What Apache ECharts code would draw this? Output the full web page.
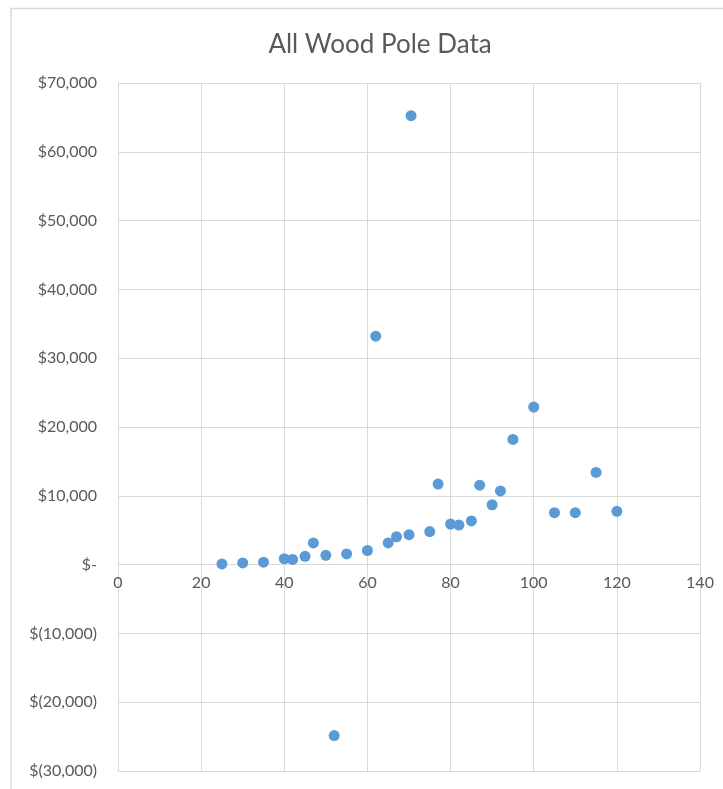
<!DOCTYPE html>
<html>
<head>
<meta charset="utf-8">
<title>All Wood Pole Data</title>
<script src="https://cdn.jsdelivr.net/npm/echarts@6/dist/echarts.min.js"></script>
<style>
  html, body { margin: 0; padding: 0; background: #ffffff; }
  #chart { width: 723px; height: 789px; }
</style>
</head>
<body>
<div id="chart"></div>
<script>
// Pole height (ft) and associated cost ($)
const poleHeights = [25, 30, 35, 40, 42, 45, 47, 50, 55, 60, 65, 67, 70, 75, 77, 80, 82, 85, 87, 90, 92, 95, 100, 105, 110, 115, 120, 62, 70.5, 52];
const poleCosts   = [100, 250, 350, 850, 750, 1200, 3150, 1350, 1550, 2050, 3150, 4050, 4350, 4800, 11700, 5900, 5750, 6350, 11550, 8700, 10700, 18200, 22900, 7550, 7550, 13400, 7750, 33200, 65250, -24850];

const xTicks = { min: 0, max: 140, interval: 20 };
const yTicks = { min: -30000, max: 70000, interval: 10000 };

function formatDollar(v) {
  if (v === 0) return '$-';
  const s = Math.abs(v).toLocaleString('en-US');
  return v < 0 ? '$(' + s + ')' : '$' + s;
}

const points = poleHeights.map((h, i) => [h, poleCosts[i]]);

const chart = echarts.init(document.getElementById('chart'), null, { renderer: 'canvas' });
const textColor = '#595959';
const gridColor = '#d9d9d9';

chart.setOption({
  backgroundColor: '#ffffff',
  animation: false,
  title: {
    text: 'All Wood Pole Data',
    left: 375,
    textAlign: 'center',
    top: 27,
    textStyle: { fontFamily: 'Lato', fontWeight: 'normal', fontSize: 26, color: textColor }
  },
  graphic: [{
    type: 'polyline',
    shape: { points: [[11, 800], [11, 8.5], [730, 8.5]] },
    style: { stroke: '#d9d9d9', lineWidth: 1.5, fill: null },
    silent: true
  }],
  grid: { left: 118, right: 23, top: 83, bottom: 18, containLabel: false, outerBoundsMode: 'none' },
  xAxis: {
    type: 'value',
    position: 'bottom',
    min: xTicks.min, max: xTicks.max, interval: xTicks.interval,
    axisLine: { onZero: false, lineStyle: { color: gridColor, width: 1 } },
    axisTick: { show: false },
    splitLine: { show: true, lineStyle: { color: gridColor, width: 1 } },
    axisLabel: { color: textColor, fontFamily: 'Lato', fontSize: 16, margin: 10 }
  },
  yAxis: {
    type: 'value',
    min: yTicks.min, max: yTicks.max, interval: yTicks.interval,
    axisLine: { show: true, onZero: false, lineStyle: { color: gridColor, width: 1 } },
    axisTick: { show: false },
    splitLine: { show: true, lineStyle: { color: gridColor, width: 1 } },
    axisLabel: {
      color: textColor, fontFamily: 'Lato', fontSize: 16, margin: 21,
      formatter: formatDollar
    }
  },
  series: [{
    type: 'scatter',
    data: points,
    symbol: 'circle',
    symbolSize: 11,
    itemStyle: { color: '#5b9bd5', opacity: 1 }
  }]
});

// Place the horizontal axis (line and labels) where cost crosses $0
const zeroPx = chart.convertToPixel({ yAxisIndex: 0 }, 0);
const bottomPx = chart.convertToPixel({ yAxisIndex: 0 }, yTicks.min);
chart.setOption({ xAxis: { offset: -(bottomPx - zeroPx) } });
</script>
</body>
</html>
